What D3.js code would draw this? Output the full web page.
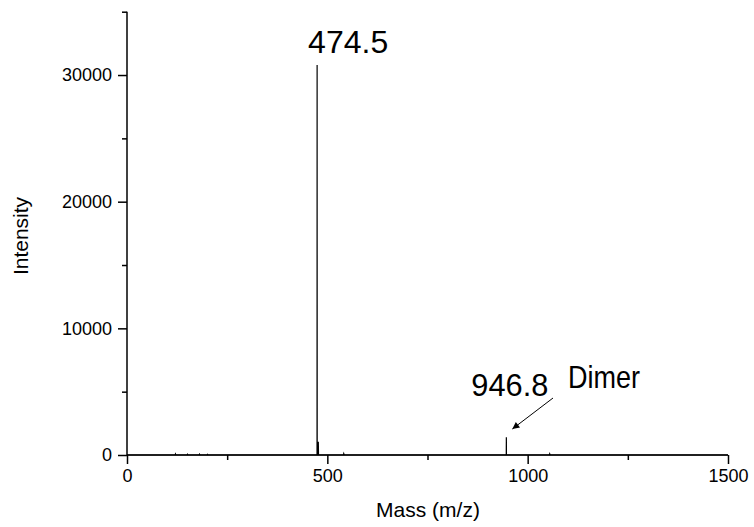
<!DOCTYPE html>
<html><head><meta charset="utf-8">
<script src="https://cdn.jsdelivr.net/npm/d3@7"></script>
<style>body{margin:0;background:#fff}svg{display:block}text{font-family:Arial,"Liberation Sans",sans-serif;fill:#000}</style>
</head><body>
<svg id="c" width="754" height="527"></svg>
<script>
const mz =        [0, 120, 121, 122, 150, 151, 152, 180, 181, 182, 200, 201, 202, 474.3, 474.5, 474.7, 476.0, 476.5, 477.5, 478.0, 540, 541, 542, 946.6, 946.8, 947.0, 1054, 1055, 1056, 1500];
const intensity = [0, 0,   80,  0,   0,   60,  0,   0,   70,  0,   0,   50,  0,   0,     30800, 0,     0,     1000,  1000,  0,     0,   110, 0,   0,     1400,  0,     0,    90,   0,    0];
const xMajor = [0, 500, 1000, 1500];
const xMinor = [250, 750, 1250];
const yMajor = [0, 10000, 20000, 30000];
const yMinor = [5000, 15000, 25000, 35000];
const peakLabels = [{mz: 474.5, text: "474.5"}, {mz: 946.8, text: "946.8"}];

const svg = d3.select("#c");
const x = d3.scaleLinear().domain([0, 1500]).range([127, 728]);
const y = d3.scaleLinear().domain([0, 35000]).range([455, 11.7]);

// spectrum
const line = d3.line().x((d,i)=>x(mz[i])).y((d,i)=>y(intensity[i]));
svg.append("path").attr("d", line(mz)).attr("fill","none").attr("stroke","#000").attr("stroke-width",1.2);

// x axis
const gx = svg.append("g").attr("transform","translate(0,455)");
gx.call(d3.axisBottom(x).tickValues(xMinor).tickSize(5).tickFormat(""));
gx.selectAll(".tick line").attr("stroke-width",1.5);
gx.select(".domain").remove();
const gx2 = svg.append("g").attr("transform","translate(0,455)");
gx2.call(d3.axisBottom(x).tickValues(xMajor).tickSize(9).tickPadding(5).tickFormat(d3.format("d")));
gx2.selectAll(".tick line").attr("stroke-width",1.5);
gx2.select(".domain").attr("stroke-width",1.5).attr("d","M127,0H728");
gx2.selectAll("text").attr("font-size",18);

// y axis
const gy = svg.append("g").attr("transform","translate(127,0)");
gy.call(d3.axisLeft(y).tickValues(yMinor).tickSize(5).tickFormat(""));
gy.selectAll(".tick line").attr("stroke-width",1.5);
gy.select(".domain").remove();
const gy2 = svg.append("g").attr("transform","translate(127,0)");
gy2.call(d3.axisLeft(y).tickValues(yMajor).tickSize(9).tickPadding(6).tickFormat(d3.format("d")));
gy2.selectAll(".tick line").attr("stroke-width",1.5);
gy2.select(".domain").attr("stroke-width",1.5).attr("d","M0,455V11.7");
gy2.selectAll("text").attr("font-size",18);

// axis titles
svg.append("text").attr("x",428).attr("y",517).attr("text-anchor","middle").attr("font-size",21).text("Mass (m/z)");
svg.append("text").attr("transform","translate(28,236) rotate(-90)").attr("text-anchor","middle").attr("font-size",21).text("Intensity");

// peak labels
svg.append("text").attr("x",x(peakLabels[0].mz)-9).attr("y",53).attr("font-size",32).text(peakLabels[0].text);
svg.append("text").attr("x",x(peakLabels[1].mz)-35).attr("y",396).attr("font-size",32).attr("textLength",77).attr("lengthAdjust","spacingAndGlyphs").text(peakLabels[1].text);
svg.append("text").attr("x",568).attr("y",388).attr("font-size",32).attr("textLength",72).attr("lengthAdjust","spacingAndGlyphs").text("Dimer");

// arrow
svg.append("defs").append("marker").attr("id","ah").attr("viewBox","0 0 10 10").attr("refX",10).attr("refY",5)
  .attr("markerWidth",10).attr("markerHeight",7).attr("markerUnits","userSpaceOnUse").attr("orient","auto")
  .append("path").attr("d","M0,0L10,5L0,10z").attr("fill","#000");
svg.append("line").attr("x1",553).attr("y1",398).attr("x2",x(946.8)+6).attr("y2",429)
  .attr("stroke","#000").attr("stroke-width",1).attr("marker-end","url(#ah)");
</script>
</body></html>
